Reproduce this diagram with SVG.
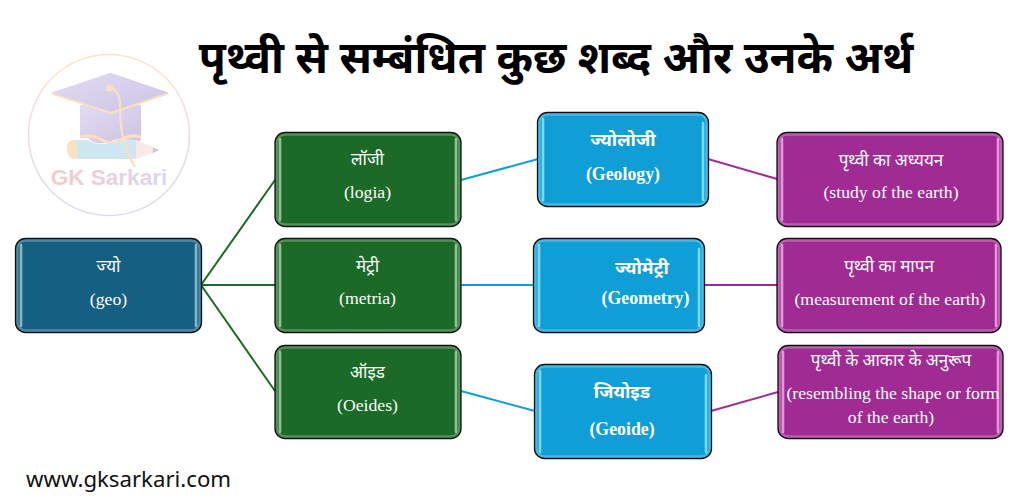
<svg xmlns="http://www.w3.org/2000/svg" width="1024" height="500" viewBox="0 0 1024 500">
<defs>
<linearGradient id="ring" x1="0" y1="0" x2="0" y2="1"><stop offset="0" stop-color="#fbe3cd"/><stop offset="1" stop-color="#dfd8f4"/></linearGradient>
<linearGradient id="gk" x1="0" y1="0" x2="1" y2="0"><stop offset="0" stop-color="#f3ccc8"/><stop offset="1" stop-color="#dcd5f3"/></linearGradient>
<linearGradient id="cap" x1="0" y1="0" x2="1" y2="1"><stop offset="0" stop-color="#e2dcf5"/><stop offset="1" stop-color="#cbc4e2"/></linearGradient>
</defs>
<style>
.box{stroke:#111;stroke-width:1.3}
.hl{fill:none;stroke-width:2.6;stroke-linecap:round;opacity:.85}
.rim{fill:none;stroke:#fff;stroke-width:2.4;opacity:.25}
.t{font-family:"Liberation Serif","Noto Sans","DejaVu Sans",serif;font-size:17.7px;fill:#fff;text-anchor:middle}
.hi{font-size:17px}
.b{font-weight:bold;font-size:17.800px}
.bh{font-weight:bold;font-size:18.200px}
.lg{stroke:#1b6a27}.lb{stroke:#0f9ed5}.lp{stroke:#a02b93}
#connectors line{stroke-width:2}
</style>
<rect width="1024" height="500" fill="#fff"/>
<text x="556" y="73" font-family="Noto Sans,DejaVu Sans,sans-serif" font-size="44" font-weight="bold" text-anchor="middle" fill="#000">पृथ्वी से सम्बंधित कुछ शब्द और उनके अर्थ</text>
<g id="logo">
<circle cx="109" cy="135" r="80.5" fill="#fff" stroke="url(#ring)" stroke-width="1.5"/>
<path d="M80 105H141V138Q141 143 133 142Q120 136 109 142Q95 146 88 138H80Z" fill="url(#cap)"/>
<path d="M67 145Q69 140 78 140H88Q95 146 109 143Q120 137 136 140L159 150L136 159H74Q67 158 67 145Z" fill="#cfe6f3"/>
<path d="M67 145Q69 140 77 140V159H74Q67 158 67 145Z" fill="#fce0bf"/>
<path d="M136 140L159 150L136 159Z" fill="#f9e8e6"/>
<path d="M153 147.500L159 150L153 153Z" fill="#c9c6d6"/>
<path d="M80 137Q92 134 104 141Q112 145 122 139Q132 134 141 137" fill="none" stroke="#fbdfc0" stroke-width="3"/>
<path d="M51 92.700L110.700 72.700L169 92.700L110.700 113Z" fill="url(#cap)"/>
<path d="M52 93.500L110.700 113L168 93.500" fill="none" stroke="#fbdfc0" stroke-width="2"/>
<path d="M110 88Q119 90 120 103Q120 120 122 133Q126 152 135 167" fill="none" stroke="#fbdfc0" stroke-width="2.200"/>
<circle cx="110" cy="88" r="3.500" fill="#fbdfc0"/>
<text x="109" y="185" font-family="Liberation Sans,sans-serif" font-size="22.500" font-weight="bold" text-anchor="middle" fill="url(#gk)">GK Sarkari</text>
</g>
<g id="connectors">
<line class="lg" x1="201" y1="285" x2="275" y2="180"/>
<line class="lg" x1="201" y1="285" x2="275" y2="285"/>
<line class="lg" x1="201" y1="285" x2="275" y2="391"/>
<line class="lb" x1="461" y1="180" x2="538" y2="159"/>
<line class="lb" x1="461" y1="285" x2="534" y2="285"/>
<line class="lb" x1="461" y1="391" x2="535" y2="411"/>
<line class="lp" x1="708" y1="159" x2="777" y2="179"/>
<line class="lp" x1="704" y1="285" x2="777" y2="285"/>
<line class="lp" x1="711" y1="411" x2="778" y2="392"/>
</g>
<g id="node-geo">
<rect class="box" x="15.500" y="238.500" width="186" height="94" rx="10" fill="#156082"/>
<rect class="rim" x="17.500" y="240.500" width="182" height="90" rx="8"/>
<path class="hl" stroke="#9fc4d4" d="M21 245V326M196 245V326"/>
<text class="t hi" x="108.500" y="272">ज्यो</text><text class="t" x="108.500" y="305">(geo)</text>
</g>
<g id="node-logia">
<rect class="box" x="275" y="132.500" width="186" height="94" rx="10" fill="#1b6a27"/>
<rect class="rim" x="277" y="134.500" width="182" height="90" rx="8"/>
<path class="hl" stroke="#a5cfa9" d="M280 139V220M456 139V220"/>
<text class="t hi" x="367.500" y="165">लॉजी</text><text class="t" x="367.500" y="198">(logia)</text>
</g>
<g id="node-metria">
<rect class="box" x="275" y="238.500" width="186" height="94" rx="10" fill="#1b6a27"/>
<rect class="rim" x="277" y="240.500" width="182" height="90" rx="8"/>
<path class="hl" stroke="#a5cfa9" d="M280 245V326M456 245V326"/>
<text class="t hi" x="367.500" y="272">मेट्री</text><text class="t" x="367.500" y="304">(metria)</text>
</g>
<g id="node-oeides">
<rect class="box" x="275" y="345.500" width="186" height="93" rx="10" fill="#1b6a27"/>
<rect class="rim" x="277" y="347.500" width="182" height="89" rx="8"/>
<path class="hl" stroke="#a5cfa9" d="M280 352V432M456 352V432"/>
<text class="t hi" x="367.500" y="378">ऑइड</text><text class="t" x="367.500" y="411">(Oeides)</text>
</g>
<g id="node-geology">
<rect class="box" x="537.500" y="112.500" width="171" height="94" rx="10" fill="#0f9ed5"/>
<rect class="rim" x="539.500" y="114.500" width="167" height="90" rx="8"/>
<path class="hl" stroke="#8ae4fa" d="M543 119V200M703 123V200"/>
<text class="t hi bh" x="623" y="146">ज्योलोजी</text><text class="t b" x="623" y="180">(Geology)</text>
</g>
<g id="node-geometry">
<rect class="box" x="533.500" y="238.500" width="171" height="94" rx="10" fill="#0f9ed5"/>
<rect class="rim" x="535.500" y="240.500" width="167" height="90" rx="8"/>
<path class="hl" stroke="#8ae4fa" d="M539 245V326M699 249V326"/>
<text class="t hi bh" x="642" y="274">ज्योमेट्री</text><text class="t b" x="645.500" y="304">(Geometry)</text>
</g>
<g id="node-geoide">
<rect class="box" x="534.500" y="364.500" width="177" height="94" rx="10" fill="#0f9ed5"/>
<rect class="rim" x="536.500" y="366.500" width="173" height="90" rx="8"/>
<path class="hl" stroke="#8ae4fa" d="M540 371V452M706 375V452"/>
<text class="t hi bh" x="622" y="398">जियोइड</text><text class="t b" x="622" y="435">(Geoide)</text>
</g>
<g id="node-study">
<rect class="box" x="777" y="132.500" width="226" height="94" rx="10" fill="#a02b93"/>
<rect class="rim" x="779" y="134.500" width="222" height="90" rx="8"/>
<path class="hl" stroke="#eea8e5" d="M782 139V220M998 139V220"/>
<text class="t hi" x="891" y="166">पृथ्वी का अध्ययन</text><text class="t" x="891" y="198">(study of the earth)</text>
</g>
<g id="node-measure">
<rect class="box" x="777" y="238.500" width="224" height="94" rx="10" fill="#a02b93"/>
<rect class="rim" x="779" y="240.500" width="220" height="90" rx="8"/>
<path class="hl" stroke="#eea8e5" d="M782 245V326M996 245V326"/>
<text class="t hi" x="889" y="272">पृथ्वी का मापन</text><text class="t" x="890" y="305">(measurement of the earth)</text>
</g>
<g id="node-resemble">
<rect class="box" x="778" y="345.500" width="225" height="93" rx="10" fill="#a02b93"/>
<rect class="rim" x="780" y="347.500" width="221" height="89" rx="8"/>
<path class="hl" stroke="#eea8e5" d="M783 352V432M998 352V432"/>
<text class="t hi" x="891" y="366">पृथ्वी के आकार के अनुरूप</text><text class="t" x="893" y="399">(resembling the shape or form</text><text class="t" x="891" y="423">of the earth)</text>
</g>
<text x="26" y="487" font-family="Noto Sans,Open Sans,sans-serif" font-size="22.200" fill="#111">www.gksarkari.com</text>
</svg>
